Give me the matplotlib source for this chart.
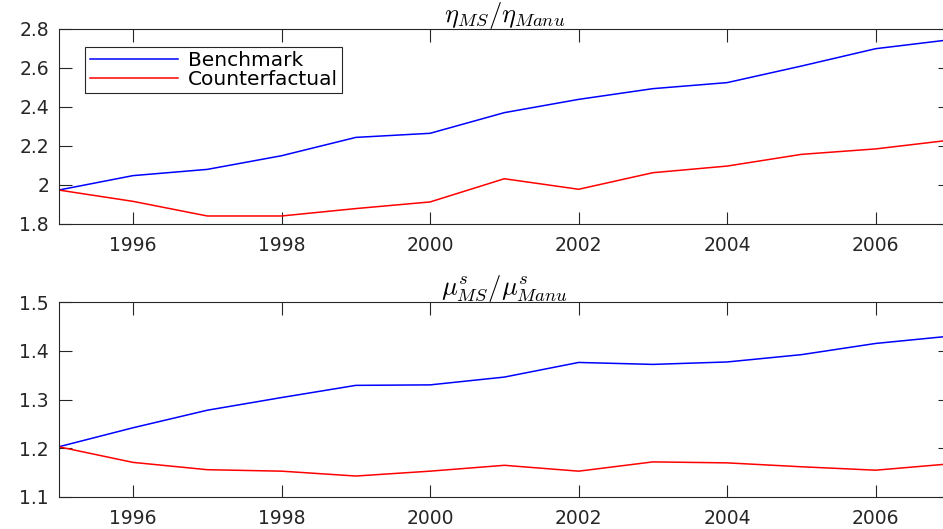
import numpy as np
import matplotlib
matplotlib.use('Agg')
import matplotlib.pyplot as plt

# Years on the horizontal axis
years = np.arange(1995, 2008)

# eta_MS / eta_Manu
eta_benchmark = [1.974, 2.048, 2.080, 2.150, 2.244, 2.265, 2.371,
                 2.439, 2.494, 2.525, 2.610, 2.699, 2.745]
eta_counterfactual = [1.974, 1.916, 1.841, 1.841, 1.879, 1.913, 2.032,
                      1.978, 2.063, 2.097, 2.157, 2.185, 2.230]

# mu^s_MS / mu^s_Manu
mu_benchmark = [1.203, 1.242, 1.278, 1.304, 1.329, 1.330, 1.346,
                1.376, 1.372, 1.377, 1.392, 1.415, 1.430]
mu_counterfactual = [1.203, 1.171, 1.156, 1.153, 1.143, 1.153, 1.165,
                     1.153, 1.172, 1.170, 1.162, 1.155, 1.168]

xticks = [1996, 1998, 2000, 2002, 2004, 2006]

plt.rcParams['font.family'] = ['DejaVu Sans']
plt.rcParams['mathtext.fontset'] = 'cm'

axcol = '#262626'

fig = plt.figure(figsize=(9.43, 5.29), dpi=100)
ax1 = fig.add_axes([0.0623, 0.5766, 0.9451, 0.3686])
ax2 = fig.add_axes([0.0623, 0.0605, 0.9451, 0.3686])


def Style(ax, ylim, yticks, ylabels):
    ax.set_xlim(1995, 2007)
    ax.set_ylim(*ylim)
    ax.set_xticks(xticks)
    ax.set_yticks(yticks)
    ax.set_yticklabels(ylabels)
    ax.tick_params(direction='in', length=9, width=0.8, colors=axcol,
                   labelsize=13.5, top=True, right=True, pad=7)
    ax.tick_params(axis='x', pad=9)
    for s in ax.spines.values():
        s.set_color(axcol)
        s.set_linewidth(0.8)


ax1.plot(years, eta_benchmark, color='#0000ff', lw=1.1, label='Benchmark')
ax1.plot(years, eta_counterfactual, color='#ff0000', lw=1.1,
         label='Counterfactual')
Style(ax1, (1.8, 2.8), [1.8, 2.0, 2.2, 2.4, 2.6, 2.8],
      ['1.8', '2', '2.2', '2.4', '2.6', '2.8'])
ax1.set_title(r'$\eta_{MS}/\eta_{Manu}$', fontsize=19, pad=5)
leg = ax1.legend(loc='upper left', bbox_to_anchor=(0.03, 0.907),
                 fontsize=14.5, handlelength=4.4, handletextpad=0.5,
                 borderpad=0.2, labelspacing=0.0, fancybox=False,
                 framealpha=1, borderaxespad=0)
leg.get_frame().set_edgecolor(axcol)
leg.get_frame().set_linewidth(0.8)

ax2.plot(years, mu_benchmark, color='#0000ff', lw=1.1)
ax2.plot(years, mu_counterfactual, color='#ff0000', lw=1.1)
Style(ax2, (1.1, 1.5), [1.1, 1.2, 1.3, 1.4, 1.5],
      ['1.1', '1.2', '1.3', '1.4', '1.5'])
ax2.set_title(r'$\mu^{s}_{MS}/\mu^{s}_{Manu}$', fontsize=19, pad=5)

plt.savefig('out.png', dpi=100)
